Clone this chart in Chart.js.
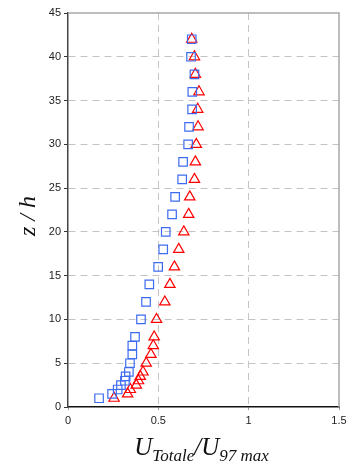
<!DOCTYPE html>
<html>
<head>
<meta charset="utf-8">
<script src="https://cdn.jsdelivr.net/npm/chart.js@4.4.0/dist/chart.umd.min.js"></script>
<style>
  html, body { margin: 0; padding: 0; background: #fff; }
</style>
</head>
<body>
<canvas id="chart" width="355" height="470"></canvas>
<script>
// heights z/h shared by both profiles
const zLevels = [1, 1.5, 2, 2.5, 3, 3.5, 4, 5, 6, 7, 8, 10, 12, 14, 16, 18, 20, 22, 24, 26, 28, 30, 32, 34, 36, 38, 40, 42];
// blue squares
const blueU = [0.172, 0.244, 0.275, 0.293, 0.315, 0.319, 0.337, 0.343, 0.356, 0.356, 0.371, 0.404, 0.432, 0.45, 0.499, 0.527, 0.541, 0.576, 0.593, 0.632, 0.637, 0.665, 0.67, 0.687, 0.688, 0.70, 0.681, 0.685];
// red triangles
const redU = [0.255, 0.33, 0.345, 0.378, 0.39, 0.40, 0.415, 0.433, 0.459, 0.472, 0.477, 0.49, 0.536, 0.564, 0.589, 0.613, 0.641, 0.668, 0.674, 0.70, 0.705, 0.71, 0.72, 0.718, 0.725, 0.705, 0.70, 0.685];

const xTicks = [0, 0.5, 1, 1.5];
const yTicks = [0, 5, 10, 15, 20, 25, 30, 35, 40, 45];

const toPoints = (xs) => xs.map((x, i) => ({ x: x, y: zLevels[i] }));

// frame on top + right, and the axis titles with subscripts
const framePlugin = {
  id: 'frame',
  beforeDatasetsDraw(chart) {
    const { ctx, chartArea: a } = chart;
    ctx.save();
    ctx.strokeStyle = '#a8a8a8';
    ctx.lineWidth = 1.5;
    ctx.beginPath();
    ctx.moveTo(a.left, a.top);
    ctx.lineTo(a.right, a.top);
    ctx.lineTo(a.right, a.bottom);
    ctx.stroke();
    ctx.restore();
  },
  afterDraw(chart) {
    const { ctx, chartArea: a } = chart;
    ctx.save();
    ctx.fillStyle = '#111';
    ctx.textBaseline = 'alphabetic';

    // x title: U_Totale / U_97 max
    const big = 'italic 25px "Liberation Serif", "DejaVu Serif", serif';
    const small = 'italic 17px "Liberation Serif", "DejaVu Serif", serif';
    const parts = [
      { t: 'U', f: big, dy: 0 },
      { t: 'Totale', f: small, dy: 6 },
      { t: '/U', f: big, dy: 0 },
      { t: '97 max', f: small, dy: 6 }
    ];
    let total = 0;
    parts.forEach(p => { ctx.font = p.f; p.w = ctx.measureText(p.t).width; total += p.w; });
    let x = (a.left + a.right) / 2 - total / 2 - 2;
    const base = 455;
    parts.forEach(p => {
      ctx.font = p.f;
      ctx.textAlign = 'left';
      ctx.fillText(p.t, x, base + p.dy);
      x += p.w;
    });

    // y title
    ctx.translate(35, 216);
    ctx.rotate(-Math.PI / 2);
    ctx.font = 'italic 24px "Liberation Serif", "DejaVu Serif", serif';
    ctx.textAlign = 'center';
    ctx.fillText('z / h', 0, 0);
    ctx.restore();
  }
};

const gridColor = '#c4c4c4';

const chart = new Chart(document.getElementById('chart'), {
  type: 'scatter',
  data: {
    datasets: [
      {
        label: 'blue',
        data: toPoints(blueU),
        pointStyle: 'rect',
        pointRadius: 6,
        pointHoverRadius: 6,
        borderColor: '#3d6cf0',
        backgroundColor: 'rgba(0,0,0,0)',
        pointBorderWidth: 1.2
      },
      {
        label: 'red',
        data: toPoints(redU),
        pointStyle: 'triangle',
        pointRadius: 6,
        pointHoverRadius: 6,
        borderColor: '#ff0000',
        backgroundColor: 'rgba(0,0,0,0)',
        pointBorderWidth: 1.2
      }
    ]
  },
  options: {
    responsive: false,
    animation: false,
    events: [],
    layout: { padding: { top: 13, right: 16, left: 0, bottom: 0 } },
    plugins: {
      legend: { display: false },
      tooltip: { enabled: false }
    },
    scales: {
      x: {
        type: 'linear',
        min: 0,
        max: 1.5,
        afterBuildTicks: (s) => { s.ticks = xTicks.map(v => ({ value: v })); },
        afterFit: (s) => { s.height = 470 - 407; },
        ticks: {
          font: { family: '"Liberation Sans", Arial, sans-serif', size: 11 },
          color: '#222',
          padding: 4,
          maxRotation: 0,
          callback: (v) => String(v)
        },
        grid: {
          color: (c) => (c.tick && (c.tick.value === 0 || c.tick.value === 1.5)) ? 'rgba(0,0,0,0)' : gridColor,
          tickLength: 3,
          tickColor: '#999',
          tickBorderDash: []
        },
        border: { color: '#111', width: 1.5, dash: [7, 5] }
      },
      y: {
        type: 'linear',
        min: 0,
        max: 45,
        afterBuildTicks: (s) => { s.ticks = yTicks.map(v => ({ value: v })); },
        afterFit: (s) => { s.width = 68; },
        ticks: {
          font: { family: '"Liberation Sans", Arial, sans-serif', size: 11 },
          color: '#222',
          padding: 3,
          callback: (v) => String(v)
        },
        grid: {
          color: (c) => (c.tick && (c.tick.value === 0 || c.tick.value === 45)) ? 'rgba(0,0,0,0)' : gridColor,
          tickLength: 4,
          tickColor: '#333',
          tickBorderDash: []
        },
        border: { color: '#444', width: 1.5, dash: [7, 5] }
      }
    }
  },
  plugins: [framePlugin]
});
</script>
</body>
</html>
